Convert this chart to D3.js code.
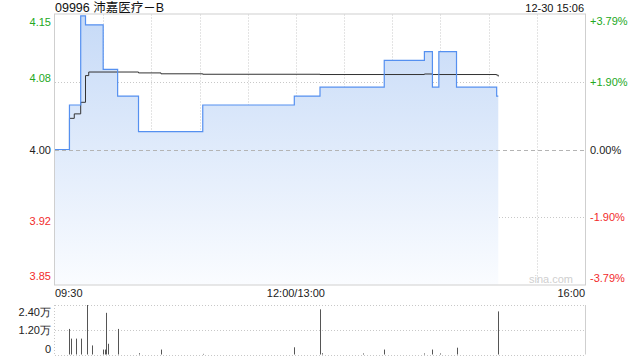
<!DOCTYPE html>
<html>
<head>
  <meta charset="utf-8">
  <title>09996 分时</title>
  <script src="https://d3js.org/d3.v7.min.js"></script>
  <style>
    body { margin: 0; background: #fff; }
    svg text { font-family: "Liberation Sans", Arial, sans-serif; font-size: 11px; }
    .grid { stroke: #c8c8c8; stroke-width: 1; stroke-dasharray: 1,2; fill: none; }
    .frame { stroke: #cfcfcf; fill: none; }
  </style>
</head>
<body>
<svg id="chart" width="640" height="360"></svg>
<script>
  // stock info
  const title = "09996 沛嘉医疗－B";
  const stamp = "12-30 15:06";
  const prevClose = 4.00;
  const pctRange = 0.0379;

  // price steps (time, price) - line holds each value until the next change
  const priceTimes = ["09:30","09:39","09:46","09:49","10:00","10:09","10:22","11:02","11:59",
                      "13:15","13:55","14:20","14:25","14:29","14:40","15:05","15:06"];
  const priceValues = [4.00, 4.05, 4.15, 4.14, 4.09, 4.06, 4.02, 4.05, 4.06,
                       4.07, 4.10, 4.11, 4.07, 4.11, 4.07, 4.06, 4.06];

  // average price steps
  const avgTimes = ["09:30","09:39","09:42","09:46","09:49","09:51","10:22","10:36","11:02",
                    "13:15","14:20","14:25","15:05","15:06"];
  const avgValues = [4.000, 4.035, 4.040, 4.053, 4.083, 4.087, 4.086, 4.085, 4.0845,
                     4.0842, 4.0848, 4.0842, 4.0835, 4.082];

  // volume bars (shares)
  const volTimes = ["09:39","09:40","09:43","09:46","09:50","09:53","10:00","10:01","10:02","10:03",
                    "10:09","10:22","10:36","11:02","11:59","13:15","13:16","13:42","13:55",
                    "14:20","14:25","14:30","14:40","15:06"];
  const volValues = [12400, 7700, 7700, 7700, 24000, 4400, 2400, 2400, 20200, 5200,
                     12400, 600, 2400, 300, 3500, 21900, 600, 500, 2400,
                     500, 2400, 500, 3300, 20900];

  const leftTicks = [4.15, 4.08, 4.00, 3.92, 3.85];
  const rightTicks = ["+3.79%", "+1.90%", "0.00%", "-1.90%", "-3.79%"];
  const volTicks = [24000, 12000, 0];
  const volTickLabels = ["2.40万", "1.20万", "0"];

  const green = "#22a822", red = "#f22b2b";

  function toMinute(t) {
    const [h, m] = t.split(":").map(Number);
    const v = h * 60 + m;
    return h < 13 ? v - 570 : 150 + (v - 780);
  }

  const svg = d3.select("#chart");
  const L = 55, R = 585, T = 14.5, B = 284.5;
  const VT = 305, VB = 354.5;

  const x = d3.scaleLinear().domain([0, 330]).range([L, R]);
  const y = d3.scaleLinear()
    .domain([prevClose * (1 - pctRange), prevClose * (1 + pctRange)])
    .range([B, T]);
  const yv = d3.scaleLinear().domain([0, 24000]).range([VB, VT]);

  // gradient for area
  const defs = svg.append("defs");
  const grad = defs.append("linearGradient").attr("id", "fillGrad")
    .attr("x1", 0).attr("y1", 0).attr("x2", 0).attr("y2", 1);
  grad.append("stop").attr("offset", "0%").attr("stop-color", "#c6daf7");
  grad.append("stop").attr("offset", "100%").attr("stop-color", "#fafcff");

  // grid lines (every 30 minutes)
  const gridMins = d3.range(30, 330, 30);
  svg.selectAll(".vgrid").data(gridMins).enter().append("line")
    .attr("class", "grid")
    .attr("x1", d => Math.round(x(d)) + 0.5).attr("x2", d => Math.round(x(d)) + 0.5)
    .attr("y1", T).attr("y2", B);

  const pctLevels = [pctRange / 2, -pctRange / 2];
  svg.selectAll(".hgrid").data(pctLevels).enter().append("line")
    .attr("class", "grid")
    .attr("x1", L).attr("x2", R)
    .attr("y1", d => Math.round(y(prevClose * (1 + d))) + 0.5)
    .attr("y2", d => Math.round(y(prevClose * (1 + d))) + 0.5);

  // price series
  const pricePts = priceTimes.map((t, i) => ({ m: toMinute(t), v: priceValues[i] }));
  const avgPts = avgTimes.map((t, i) => ({ m: toMinute(t), v: avgValues[i] }));

  svg.append("path")
    .datum(pricePts)
    .attr("fill", "url(#fillGrad)")
    .attr("d", d3.area().curve(d3.curveStepAfter)
      .x(d => x(d.m)).y0(B).y1(d => y(d.v)));

  // prev close dashed line
  svg.append("line")
    .attr("x1", L).attr("x2", R)
    .attr("y1", Math.round(y(prevClose)) + 0.5).attr("y2", Math.round(y(prevClose)) + 0.5)
    .attr("stroke", "#b4b4b4").attr("stroke-dasharray", "4,3");

  svg.append("path")
    .datum(avgPts)
    .attr("fill", "none").attr("stroke", "#333").attr("stroke-width", 1)
    .attr("d", d3.line().curve(d3.curveStepAfter).x(d => x(d.m)).y(d => y(d.v)));

  svg.append("path")
    .datum(pricePts)
    .attr("fill", "none").attr("stroke", "#5590f0").attr("stroke-width", 1.2)
    .attr("d", d3.line().curve(d3.curveStepAfter).x(d => x(d.m)).y(d => y(d.v)));

  // frame of main chart
  svg.append("rect").attr("class", "frame")
    .attr("x", L - 0.5).attr("y", T - 0.5).attr("width", R - L + 1).attr("height", B - T + 1);

  // watermark
  svg.append("text").attr("x", 573).attr("y", 283).attr("text-anchor", "end")
    .attr("fill", "#cfcfcf").style("font-size", "11px").text("sina.com");

  // left axis labels
  svg.selectAll(".lt").data(leftTicks).enter().append("text")
    .attr("x", 51)
    .attr("y", (d, i) => i === 0 ? y(d) + 10 : i === leftTicks.length - 1 ? y(d) - 3 : y(d) + 4)
    .attr("text-anchor", "end")
    .attr("fill", d => d > prevClose ? green : d < prevClose ? red : "#222")
    .text(d => d.toFixed(2));

  svg.selectAll(".rt").data(rightTicks).enter().append("text")
    .attr("x", 590)
    .attr("y", (d, i) => {
      const p = prevClose * (1 + pctRange * (1 - i / 2));
      return i === 0 ? y(p) + 10 : i === rightTicks.length - 1 ? y(p) - 3 : y(p) + 4;
    })
    .attr("fill", d => d[0] === "+" ? green : d[0] === "-" ? red : "#222")
    .text(d => d);

  // header
  svg.append("text").attr("x", 55).attr("y", 12).attr("fill", "#111")
    .style("font-size", "12.5px")
    .style("font-family", "'Liberation Sans', 'Noto Sans CJK SC', sans-serif")
    .text(title);
  svg.append("text").attr("x", 584).attr("y", 12).attr("text-anchor", "end")
    .attr("fill", "#111").text(stamp);

  // time labels
  const timeLabels = [{ m: 0, t: "09:30", a: "start" }, { m: 150, t: "12:00/13:00", a: "middle" },
                      { m: 330, t: "16:00", a: "end" }];
  svg.selectAll(".tl").data(timeLabels).enter().append("text")
    .attr("x", d => x(d.m)).attr("y", 297).attr("text-anchor", d => d.a)
    .attr("fill", "#222").text(d => d.t);

  // volume chart
  svg.selectAll(".vg").data(volTicks).enter().append("line")
    .attr("class", "grid")
    .attr("x1", L).attr("x2", R)
    .attr("y1", d => Math.round(yv(d)) + 0.5).attr("y2", d => Math.round(yv(d)) + 0.5);
  svg.append("line").attr("x1", R + 0.5).attr("x2", R + 0.5).attr("y1", VT).attr("y2", VB)
    .attr("stroke", "#cfcfcf");
  svg.append("line").attr("class", "grid").attr("x1", L - 0.5).attr("x2", L - 0.5)
    .attr("y1", VT).attr("y2", VB);

  svg.selectAll(".vol").data(volTimes).enter().append("line")
    .attr("x1", (d) => Math.round(x(toMinute(d))) + 0.5)
    .attr("x2", (d) => Math.round(x(toMinute(d))) + 0.5)
    .attr("y1", VB).attr("y2", (d, i) => yv(Math.min(volValues[i], 24000)))
    .attr("stroke", "#555").attr("stroke-width", 1);

  svg.selectAll(".vt").data(volTicks).enter().append("text")
    .attr("x", 51).attr("y", (d, i) => i === 0 ? yv(d) + 10.5 : i === 1 ? yv(d) + 4 : yv(d) - 2)
    .attr("text-anchor", "end").attr("fill", "#222")
    .text((d, i) => volTickLabels[i]);
</script>
</body>
</html>
